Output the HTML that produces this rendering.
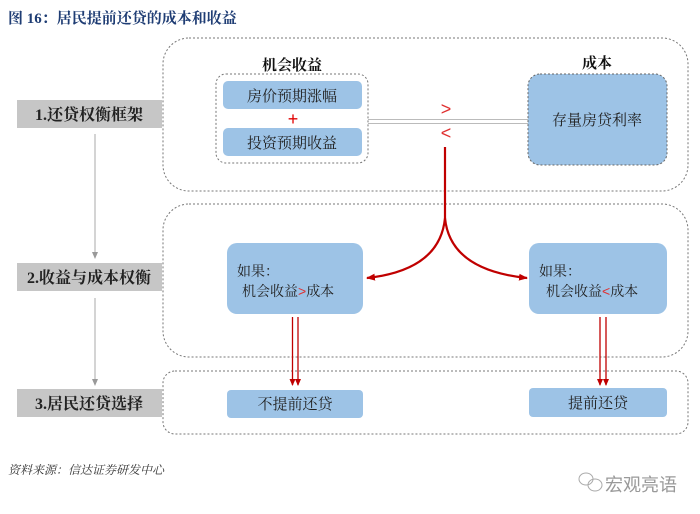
<!DOCTYPE html>
<html><head><meta charset="utf-8"><style>
html,body{margin:0;padding:0;background:#fff;}
svg{display:block;}
text{font-family:"Liberation Serif","Noto Serif CJK SC",serif;}
.s{font-family:"Liberation Sans","Noto Sans CJK SC",sans-serif;}
</style></head><body>
<svg width="700" height="514" viewBox="0 0 700 514" xmlns="http://www.w3.org/2000/svg">
<defs>
<marker id="ag" markerWidth="8" markerHeight="8" refX="6" refY="4" orient="auto" markerUnits="userSpaceOnUse"><path d="M0,1 L7,4 L0,7 Z" fill="#999"/></marker>
<marker id="ar" markerWidth="10" markerHeight="10" refX="8" refY="5" orient="auto" markerUnits="userSpaceOnUse"><path d="M0,1.5 L9,5 L0,8.5 Z" fill="#c00000"/></marker>
<marker id="ar2" markerWidth="8" markerHeight="8" refX="6" refY="4" orient="auto" markerUnits="userSpaceOnUse"><path d="M0,1 L7,4 L0,7 Z" fill="#c00000"/></marker>
</defs>
<text x="8" y="23" font-size="15" font-weight="bold" fill="#1f3d74">图 16：居民提前还贷的成本和收益</text>

<rect x="163" y="38" width="525" height="153" rx="26" fill="none" stroke="#777" stroke-width="1" stroke-dasharray="2,2"/>
<rect x="163" y="204" width="525" height="153" rx="26" fill="none" stroke="#777" stroke-width="1" stroke-dasharray="2,2"/>
<rect x="163" y="371" width="525" height="63" rx="12" fill="none" stroke="#777" stroke-width="1" stroke-dasharray="2,2"/>

<rect x="17" y="100" width="145" height="28" fill="#c6c6c6"/>
<text x="89" y="120" font-size="16" font-weight="bold" text-anchor="middle" fill="#222">1.还贷权衡框架</text>
<rect x="17" y="263" width="145" height="28" fill="#c6c6c6"/>
<text x="89" y="283" font-size="16" font-weight="bold" text-anchor="middle" fill="#222">2.收益与成本权衡</text>
<rect x="17" y="389" width="145" height="28" fill="#c6c6c6"/>
<text x="89" y="409" font-size="16" font-weight="bold" text-anchor="middle" fill="#222">3.居民还贷选择</text>
<line x1="95" y1="134" x2="95" y2="258" stroke="#aaa" stroke-width="1" marker-end="url(#ag)"/>
<line x1="95" y1="298" x2="95" y2="385" stroke="#aaa" stroke-width="1" marker-end="url(#ag)"/>

<text x="292" y="70" font-size="15" font-weight="bold" text-anchor="middle" fill="#111">机会收益</text>
<rect x="216" y="74" width="152" height="89" rx="10" fill="none" stroke="#777" stroke-dasharray="2,2"/>
<rect x="223" y="81" width="139" height="28" rx="5" fill="#9dc3e6"/>
<text x="292" y="101" font-size="15" text-anchor="middle" fill="#222">房价预期涨幅</text>
<text x="293" y="125" font-size="18" text-anchor="middle" fill="#e00000" class="s">+</text>
<rect x="223" y="128" width="139" height="28" rx="5" fill="#9dc3e6"/>
<text x="292" y="148" font-size="15" text-anchor="middle" fill="#222">投资预期收益</text>

<text x="597" y="68" font-size="15" font-weight="bold" text-anchor="middle" fill="#111">成本</text>
<rect x="528" y="74" width="139" height="91" rx="12" fill="#9dc3e6" stroke="#666" stroke-dasharray="2,2"/>
<text x="597" y="125" font-size="15" text-anchor="middle" fill="#222">存量房贷利率</text>

<line x1="368" y1="119.5" x2="528" y2="119.5" stroke="#bbb" stroke-width="1"/>
<line x1="368" y1="123.5" x2="528" y2="123.5" stroke="#bbb" stroke-width="1"/>
<text x="446" y="115" font-size="18" text-anchor="middle" fill="#e03030" class="s">&gt;</text>
<text x="446" y="139" font-size="18" text-anchor="middle" fill="#e03030" class="s">&lt;</text>

<path d="M445,147 L445,218 Q440,270 367,278" fill="none" stroke="#c00000" stroke-width="2.2" marker-end="url(#ar)"/>
<path d="M445,218 Q450,270 527,278" fill="none" stroke="#c00000" stroke-width="2.2" marker-end="url(#ar)"/>

<rect x="227" y="243" width="136" height="71" rx="10" fill="#9dc3e6"/>
<text x="237" y="276" font-size="14" fill="#222">如果：</text>
<text x="242" y="296" font-size="14" fill="#222">机会收益<tspan fill="#e03030" class="s">&gt;</tspan>成本</text>
<rect x="529" y="243" width="138" height="71" rx="10" fill="#9dc3e6"/>
<text x="539" y="276" font-size="14" fill="#222">如果：</text>
<text x="546" y="296" font-size="14" fill="#222">机会收益<tspan fill="#e03030" class="s">&lt;</tspan>成本</text>

<line x1="292.5" y1="317" x2="292.5" y2="385" stroke="#c00000" stroke-width="1.3" marker-end="url(#ar2)"/>
<line x1="298" y1="317" x2="298" y2="385" stroke="#c00000" stroke-width="1.3" marker-end="url(#ar2)"/>
<line x1="600" y1="317" x2="600" y2="385" stroke="#c00000" stroke-width="1.3" marker-end="url(#ar2)"/>
<line x1="606" y1="317" x2="606" y2="385" stroke="#c00000" stroke-width="1.3" marker-end="url(#ar2)"/>

<rect x="227" y="390" width="136" height="28" rx="4" fill="#9dc3e6"/>
<text x="295" y="409" font-size="15" text-anchor="middle" fill="#222">不提前还贷</text>
<rect x="529" y="388" width="138" height="29" rx="4" fill="#9dc3e6"/>
<text x="598" y="408" font-size="15" text-anchor="middle" fill="#222">提前还贷</text>

<text x="8" y="474" font-size="12" font-style="italic" fill="#333">资料来源：信达证券研发中心</text>
<g fill="none" stroke="#aaa" stroke-width="1">
<ellipse cx="586" cy="479" rx="7" ry="6"/>
<ellipse cx="595" cy="485" rx="7" ry="6"/>
</g>
<text x="605" y="491" font-size="18" class="s" fill="#999">宏观亮语</text>
</svg>
</body></html>
